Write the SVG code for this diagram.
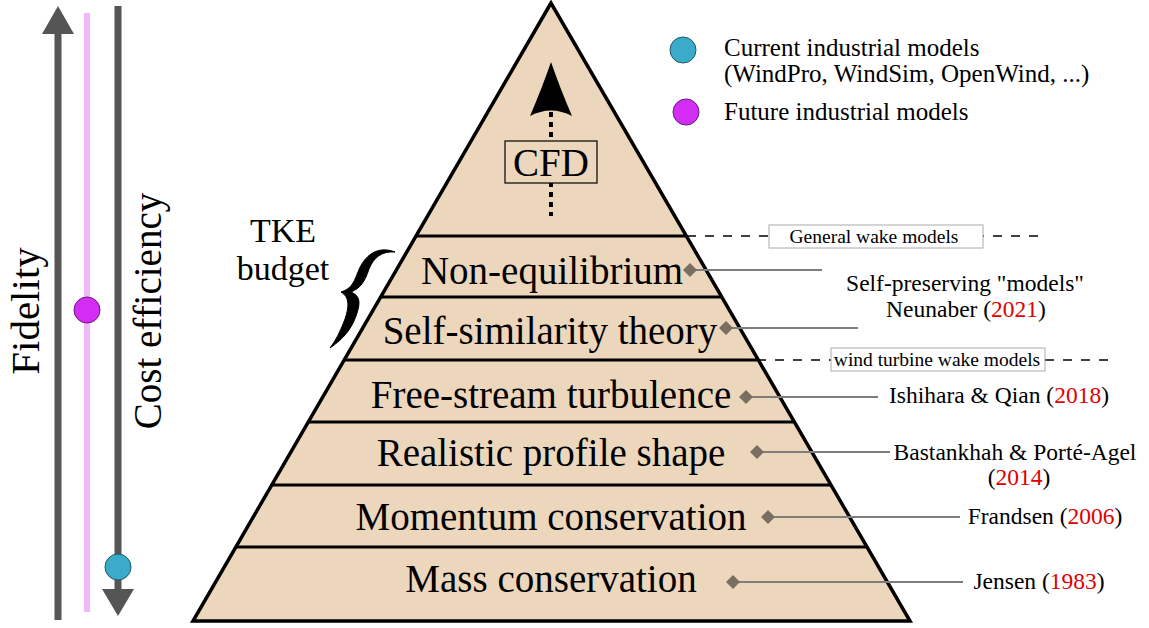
<svg xmlns="http://www.w3.org/2000/svg" width="1149" height="628" viewBox="0 0 1149 628">
<style>
text{font-family:"Liberation Serif","Times New Roman",serif;fill:#000}
.lay{font-size:39px;text-anchor:middle}
.ref{font-size:23.5px;text-anchor:middle}
.yr{fill:#e00000}
.sep{stroke:#000;stroke-width:3}
.lead{stroke:#7d7d7d;stroke-width:2.2;fill:none}
.dia{fill:#7a6e62}
.dash{stroke:#000;stroke-width:1.5;stroke-dasharray:9 9;fill:none}
.box{fill:#fff;stroke:#aaa;stroke-width:1}
.lbl{font-size:19.5px;text-anchor:middle}
.leg{font-size:25px}
</style>

<g id="scales">
<line x1="58" y1="620" x2="58" y2="30" stroke="#555" stroke-width="7"/>
<polygon points="58,6 42,34 74,34" fill="#555"/>
<line x1="87" y1="13" x2="87" y2="612" stroke="#f0b8f8" stroke-width="6"/>
<line x1="118" y1="6" x2="118" y2="592" stroke="#555" stroke-width="7"/>
<polygon points="118,616 102,589 134,589" fill="#555"/>
<circle cx="118" cy="567" r="13" fill="#3aabc8" stroke="#1e5a6a" stroke-width="1"/>
<circle cx="87" cy="310" r="13" fill="#d22cf5" stroke="#6a1a7a" stroke-width="1"/>
<text transform="translate(39,311) rotate(-90)" font-size="41" text-anchor="middle">Fidelity</text>
<text transform="translate(161,311) rotate(-90)" font-size="39" text-anchor="middle">Cost efficiency</text>
</g>

<g id="pyramid">
<polygon points="551,3 193,621 910,621" fill="#ecd7bc" stroke="#000" stroke-width="3.5" stroke-linejoin="miter"/>
<line class="sep" x1="416" y1="236" x2="686" y2="236"/>
<line class="sep" x1="381" y1="297" x2="721" y2="297"/>
<line class="sep" x1="345" y1="360" x2="757" y2="360"/>
<line class="sep" x1="309" y1="422" x2="793" y2="422"/>
<line class="sep" x1="272" y1="485" x2="830" y2="485"/>
<line class="sep" x1="236" y1="547" x2="866" y2="547"/>
</g>

<g id="cfd">
<line x1="551" y1="112" x2="551" y2="216" stroke="#000" stroke-width="4" stroke-dasharray="5 5"/>
<path d="M551,62 Q560,88 572,116 Q551,105 530,116 Q542,88 551,62 Z" fill="#000"/>
<rect x="505" y="141" width="92" height="42" fill="#ecd7bc" stroke="#000" stroke-width="1.2"/>
<text x="551" y="176" font-size="39" text-anchor="middle">CFD</text>
</g>

<g id="layer-noneq"><text class="lay" x="552" y="284">Non-equilibrium</text></g>
<g id="layer-selfsim"><text class="lay" x="550" y="344">Self-similarity theory</text></g>
<g id="layer-freestream"><text class="lay" x="551" y="408">Free-stream turbulence</text></g>
<g id="layer-profile"><text class="lay" x="551" y="466">Realistic profile shape</text></g>
<g id="layer-momentum"><text class="lay" x="551" y="530">Momentum conservation</text></g>
<g id="layer-mass"><text class="lay" x="551" y="592">Mass conservation</text></g>

<g id="tke">
<text x="283" y="242" font-size="34" text-anchor="middle">TKE</text>
<text x="283" y="280" font-size="34" text-anchor="middle">budget</text>
<path d="M395,252 C377,245 364,256 358,272 C353,285 350,289 341,292 C350,297 349,307 345,319 C340,332 336,340 330,348 C343,339 351,330 356,316 C361,302 360,296 351,292 C361,288 365,281 369,269 C374,257 382,251 395,252 Z" fill="#000" stroke="#000" stroke-width="1"/>
</g>

<g id="connectors">
<path class="lead" d="M690,270 L822,270"/>
<path class="lead" d="M726,328 L858,328"/>
<path class="lead" d="M746,397 L878,397"/>
<path class="lead" d="M757,452 L890,452"/>
<path class="lead" d="M768,517 L960,517"/>
<path class="lead" d="M733,582 L963,582"/>
<polygon class="dia" points="683,270 690,263 697,270 690,277"/>
<polygon class="dia" points="719,328 726,321 733,328 726,335"/>
<polygon class="dia" points="739,397 746,390 753,397 746,404"/>
<polygon class="dia" points="750,452 757,445 764,452 757,459"/>
<polygon class="dia" points="761,517 768,510 775,517 768,524"/>
<polygon class="dia" points="726,582 733,575 740,582 733,589"/>
<path class="dash" d="M687,236 L1040,236"/>
<path class="dash" d="M757,360 L1112,360"/>
</g>

<g id="label-general">
<rect class="box" x="769" y="225" width="214" height="23"/>
<text class="lbl" x="874" y="243">General wake models</text>
</g>
<g id="label-wt">
<rect class="box" x="831" y="348" width="214" height="23"/>
<text class="lbl" x="937" y="366">wind turbine wake models</text>
</g>

<g id="ref-neunaber">
<text class="ref" x="965" y="291">Self-preserving "models"</text>
<text class="ref" x="966" y="317">Neunaber (<tspan class="yr">2021</tspan>)</text>
</g>
<g id="ref-ishihara"><text class="ref" x="999" y="403">Ishihara &amp; Qian (<tspan class="yr">2018</tspan>)</text></g>
<g id="ref-bastankhah">
<text class="ref" x="1015" y="460">Bastankhah &amp; Porté-Agel</text>
<text class="ref" x="1019" y="485">(<tspan class="yr">2014</tspan>)</text>
</g>
<g id="ref-frandsen"><text class="ref" x="1045" y="524">Frandsen (<tspan class="yr">2006</tspan>)</text></g>
<g id="ref-jensen"><text class="ref" x="1039" y="589">Jensen (<tspan class="yr">1983</tspan>)</text></g>

<g id="legend">
<circle cx="683" cy="50" r="13" fill="#3aabc8" stroke="#1e5a6a" stroke-width="1"/>
<text class="leg" x="724" y="56">Current industrial models</text>
<text class="leg" x="724" y="82">(WindPro, WindSim, OpenWind, ...)</text>
<circle cx="686" cy="112" r="13" fill="#d22cf5" stroke="#6a1a7a" stroke-width="1"/>
<text class="leg" x="724" y="120">Future industrial models</text>
</g>
</svg>
